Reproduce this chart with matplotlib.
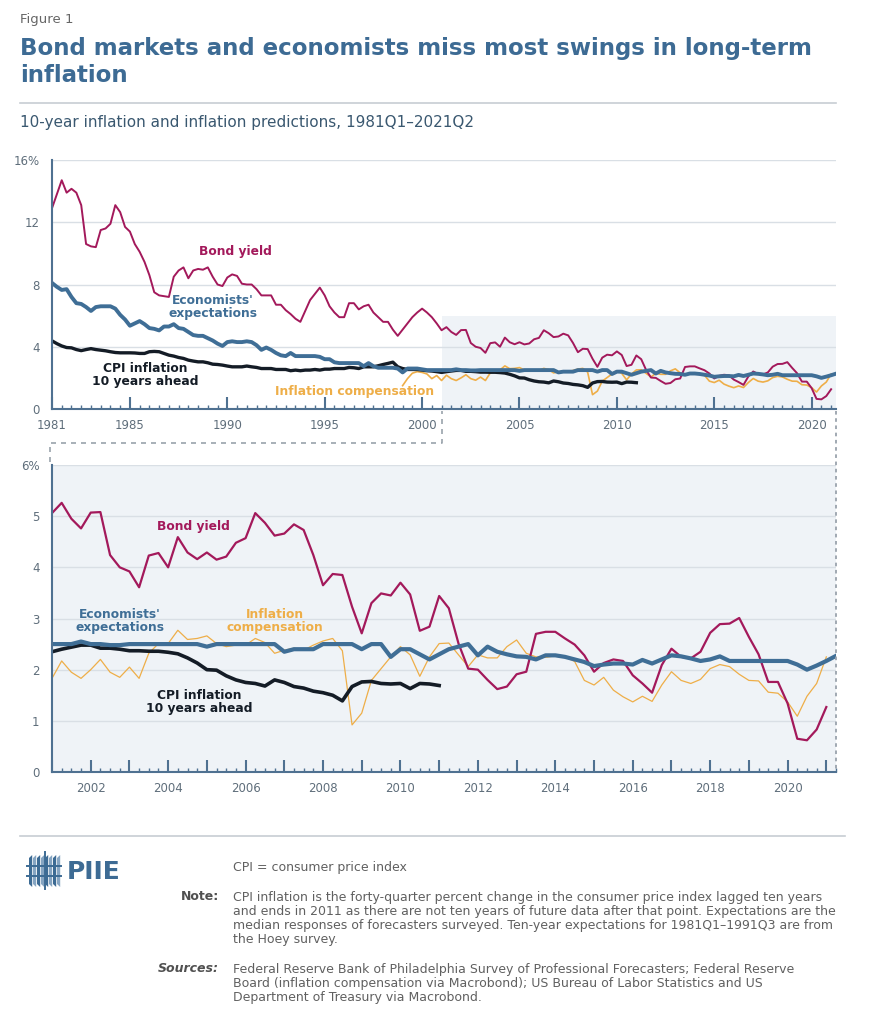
import numpy as np
import matplotlib.pyplot as plt
from matplotlib.patches import Rectangle, Polygon
from matplotlib.lines import Line2D

W, H = 874, 1024

# Quarterly data, percent
bond_start = 1981
bond_yield = [
    12.9, 13.8, 14.7, 13.9,   14.15, 13.9, 13.1, 10.6,   10.45, 10.4, 11.5, 11.6,
    11.9, 13.1, 12.65, 11.7,  11.4, 10.6, 10.1, 9.45,    8.6, 7.5, 7.3, 7.25,
    7.2, 8.5, 8.9, 9.1,       8.4, 8.9, 9.0, 8.95,       9.1, 8.5, 8.0, 7.9,
    8.45, 8.65, 8.55, 8.05,   8.0, 8.0, 7.7, 7.3,        7.3, 7.3, 6.7, 6.7,
    6.35, 6.1, 5.8, 5.6,      6.3, 7.0, 7.4, 7.8,        7.3, 6.6, 6.2, 5.9,
    5.9, 6.8, 6.8, 6.4,       6.6, 6.7, 6.2, 5.9,        5.6, 5.6, 5.1, 4.7,
    5.1, 5.5, 5.9, 6.2,       6.45, 6.2, 5.9, 5.5,       5.06, 5.26, 4.95, 4.76,
    5.07, 5.08, 4.24, 4.0,    3.92, 3.61, 4.23, 4.28,    4.0, 4.59, 4.29, 4.16,
    4.29, 4.15, 4.21, 4.48,   4.57, 5.06, 4.87, 4.62,    4.66, 4.84, 4.73, 4.24,
    3.65, 3.87, 3.85, 3.23,   2.71, 3.30, 3.49, 3.45,    3.70, 3.47, 2.76, 2.84,
    3.44, 3.2, 2.51, 2.02,    2.0, 1.8, 1.62, 1.67,      1.91, 1.96, 2.7, 2.74,
    2.74, 2.61, 2.49, 2.28,   1.96, 2.13, 2.2, 2.17,     1.89, 1.73, 1.55, 2.09,
    2.41, 2.25, 2.22, 2.35,   2.72, 2.89, 2.90, 3.01,    2.64, 2.30, 1.76, 1.76,
    1.34, 0.65, 0.62, 0.83,   1.27,
]

exp_start = 1981
expectations = [
    8.1, 7.85, 7.65, 7.7,     7.2, 6.8, 6.75, 6.55,      6.3, 6.55, 6.6, 6.6,
    6.6, 6.45, 6.05, 5.75,    5.35, 5.5, 5.65, 5.45,     5.2, 5.15, 5.05, 5.3,
    5.3, 5.45, 5.2, 5.15,     4.95, 4.75, 4.7, 4.7,      4.55, 4.4, 4.2, 4.05,
    4.3, 4.35, 4.3, 4.3,      4.35, 4.3, 4.1, 3.8,       3.95, 3.8, 3.6, 3.45,
    3.4, 3.6, 3.4, 3.4,       3.4, 3.4, 3.4, 3.35,       3.2, 3.2, 3.0, 2.95,
    2.95, 2.95, 2.95, 2.95,   2.75, 2.95, 2.75, 2.65,    2.65, 2.65, 2.65, 2.6,
    2.35, 2.6, 2.6, 2.6,      2.55, 2.5, 2.5, 2.5,       2.5, 2.5, 2.5, 2.55,
    2.5, 2.5, 2.48, 2.48,     2.5, 2.5, 2.5, 2.5,        2.5, 2.5, 2.5, 2.5,
    2.45, 2.5, 2.5, 2.5,      2.5, 2.5, 2.5, 2.5,        2.35, 2.4, 2.4, 2.4,
    2.5, 2.5, 2.5, 2.5,       2.4, 2.5, 2.5, 2.25,       2.4, 2.4, 2.3, 2.2,
    2.3, 2.4, 2.45, 2.5,      2.28, 2.45, 2.35, 2.3,     2.26, 2.25, 2.2, 2.28,
    2.28, 2.25, 2.2, 2.15,    2.07, 2.1, 2.12, 2.12,     2.1, 2.19, 2.12, 2.2,
    2.28, 2.26, 2.22, 2.17,   2.2, 2.26, 2.17, 2.17,     2.17, 2.17, 2.17, 2.17,
    2.17, 2.1, 2.0, 2.08,     2.17, 2.27,
]

cpi_start = 1981
cpi_ahead = [
    4.38, 4.2, 4.05, 3.95,    3.93, 3.82, 3.75, 3.82,    3.88, 3.82, 3.78, 3.74,
    3.68, 3.63, 3.61, 3.61,   3.61, 3.6, 3.57, 3.57,     3.68, 3.7, 3.68, 3.57,
    3.46, 3.4, 3.31, 3.25,    3.14, 3.08, 3.03, 3.03,    2.97, 2.88, 2.86, 2.82,
    2.76, 2.71, 2.71, 2.71,   2.76, 2.71, 2.67, 2.6,     2.6, 2.6, 2.54, 2.54,
    2.54, 2.46, 2.5, 2.46,    2.5, 2.5, 2.54, 2.5,       2.56, 2.56, 2.6, 2.6,
    2.6, 2.67, 2.65, 2.6,     2.71, 2.71, 2.71, 2.78,    2.86, 2.93, 3.01, 2.71,
    2.6, 2.54, 2.54, 2.54,    2.5, 2.46, 2.44, 2.4,      2.35, 2.40, 2.44, 2.48,
    2.48, 2.42, 2.42, 2.40,   2.37, 2.37, 2.36, 2.36,    2.34, 2.31, 2.23, 2.13,
    2.0, 1.99, 1.88, 1.8,     1.75, 1.73, 1.68, 1.8,     1.75, 1.67, 1.64, 1.58,
    1.55, 1.50, 1.39, 1.67,   1.76, 1.77, 1.73, 1.72,    1.73, 1.63, 1.73, 1.72,
    1.69,
]

comp_start = 1999
infl_comp = [
    1.5, 1.95, 2.3, 2.4,      2.35, 2.25, 1.95, 2.15,    1.83, 2.17, 1.95, 1.83,
    2.0, 2.2, 1.95, 1.85,     2.05, 1.83, 2.32, 2.51,    2.51, 2.77, 2.59, 2.61,
    2.66, 2.51, 2.45, 2.48,   2.48, 2.61, 2.53, 2.32,    2.38, 2.42, 2.38, 2.48,
    2.56, 2.61, 2.37, 0.92,   1.15, 1.79, 2.02, 2.25,    2.45, 2.29, 1.87, 2.25,
    2.51, 2.52, 2.29, 2.06,   2.29, 2.23, 2.23, 2.45,    2.58, 2.32, 2.25, 2.24,
    2.27, 2.25, 2.16, 1.79,   1.70, 1.85, 1.6, 1.47,     1.37, 1.48, 1.38, 1.70,
    1.96, 1.79, 1.73, 1.81,   2.02, 2.1, 2.06, 1.91,     1.79, 1.78, 1.56, 1.54,
    1.37, 1.09, 1.48, 1.73,   2.25,
]

upper_xticks = [1981, 1985, 1990, 1995, 2000, 2005, 2010, 2015, 2020]
upper_yticks = [0, 4, 8, 12, 16]
upper_ylabels = ['0', '4', '8', '12', '16%']
lower_xticks = list(range(2002, 2021, 2))
lower_yticks = [0, 1, 2, 3, 4, 5, 6]
lower_ylabels = ['0', '1', '2', '3', '4', '5', '6%']

note_lines = [
    'CPI inflation is the forty-quarter percent change in the consumer price index lagged ten years',
    'and ends in 2011 as there are not ten years of future data after that point. Expectations are the',
    'median responses of forecasters surveyed. Ten-year expectations for 1981Q1\u20131991Q3 are from',
    'the Hoey survey.',
]
source_lines = [
    'Federal Reserve Bank of Philadelphia Survey of Professional Forecasters; Federal Reserve',
    'Board (inflation compensation via Macrobond); US Bureau of Labor Statistics and US',
    'Department of Treasury via Macrobond.',
]

# Colours
C_BOND = '#a3195b'
C_EXP = '#3f6e96'
C_CPI = '#141c26'
C_COMP = '#eeae48'
C_AXIS = '#4f7191'
C_GRID = '#d9dfe5'
C_TICK = '#5f6e7b'
C_SHADE = '#eff3f7'
C_TITLE = '#3d6b94'
C_CONN = '#9aa3ac'

SANS = ['DejaVu Sans']


def fx(x):
    return x / W


def fy(y):
    return 1 - y / H


def quarters(start, values):
    return start + np.arange(len(values)) / 4


def style_axis(ax, yticks, ylabels):
    ax.set_yticks(yticks)
    ax.set_yticklabels(ylabels)
    ax.tick_params(axis='y', length=0, pad=9, labelsize=8.5, labelcolor=C_TICK)
    for side in ['top', 'right']:
        ax.spines[side].set_visible(False)
    for side in ['left', 'bottom']:
        ax.spines[side].set_color(C_AXIS)
        ax.spines[side].set_linewidth(1.5)
        ax.spines[side].set_zorder(6)
    ax.tick_params(axis='x', which='major', direction='in', length=8.5, width=1.5,
                   color=C_AXIS, labelsize=8.5, labelcolor=C_TICK, pad=7)
    ax.tick_params(axis='x', which='minor', direction='in', length=3, width=1,
                   color=C_AXIS)
    for lab in ax.get_xticklabels() + ax.get_yticklabels():
        lab.set_family(SANS)


fig = plt.figure(figsize=(W / 100, H / 100), dpi=100)

# ---- Header
fig.text(fx(20), fy(19), 'Figure 1', family=SANS, fontsize=9.5, color='#666666',
         va='center')
fig.text(fx(20), fy(48), 'Bond markets and economists miss most swings in long-term',
         family=SANS, fontsize=16.5, fontweight='bold', color=C_TITLE, va='center')
fig.text(fx(20), fy(76), 'inflation', family=SANS, fontsize=16.5, fontweight='bold',
         color=C_TITLE, va='center')
fig.add_artist(Line2D([fx(20), fx(836)], [fy(103), fy(103)], color='#c7cdd3', lw=1.2))
fig.text(fx(20), fy(123), '10-year inflation and inflation predictions, 1981Q1\u20132021Q2',
         family=SANS, fontsize=11, color='#3a5870', va='center')

# ---- Upper panel: full sample
ax1 = fig.add_axes([fx(52), fy(409), (836 - 52) / W, (409 - 160) / H])
ax1.set_xlim(1981, 2021.25)
ax1.set_ylim(0, 16)
ax1.add_patch(Rectangle((2001, 0), 20.25, 6, facecolor=C_SHADE, edgecolor='none', zorder=0))
for v in upper_yticks[1:]:
    ax1.axhline(v, color=C_GRID, lw=1, zorder=1)

ax1.plot(quarters(comp_start, infl_comp), infl_comp, color=C_COMP, lw=1.2, zorder=2)
ax1.plot(quarters(bond_start, bond_yield), bond_yield, color=C_BOND, lw=1.4, zorder=3)
ax1.plot(quarters(cpi_start, cpi_ahead), cpi_ahead, color=C_CPI, lw=2.4, zorder=4)
ax1.plot(quarters(exp_start, expectations), expectations, color=C_EXP, lw=2.8, zorder=5)

ax1.set_xticks(upper_xticks)
ax1.set_xticklabels([str(y) for y in upper_xticks])
ax1.set_xticks(np.arange(1981.5, 2021.3, 0.5), minor=True)
style_axis(ax1, upper_yticks, upper_ylabels)

lab_kw = dict(family=SANS, fontsize=8.8, fontweight='bold', ha='center', va='center',
              linespacing=1.0)
ax1.text(1990.4, 10.1, 'Bond yield', color=C_BOND, **lab_kw)
ax1.text(1989.25, 6.55, "Economists'\nexpectations", color=C_EXP, **lab_kw)
ax1.text(1985.8, 2.2, 'CPI inflation\n10 years ahead', color=C_CPI, **lab_kw)
ax1.text(1996.55, 1.15, 'Inflation compensation', color=C_COMP, **lab_kw)

# ---- Lower panel: zoom on 2001-2021
ax2 = fig.add_axes([fx(52), fy(772), (836 - 52) / W, (772 - 465) / H])
ax2.set_xlim(2001, 2021.25)
ax2.set_ylim(0, 6)
ax2.set_facecolor(C_SHADE)
for v in lower_yticks[1:]:
    ax2.axhline(v, color=C_GRID, lw=1, zorder=1)

ax2.plot(quarters(comp_start, infl_comp), infl_comp, color=C_COMP, lw=0.9, zorder=2)
ax2.plot(quarters(bond_start, bond_yield), bond_yield, color=C_BOND, lw=1.6, zorder=3)
ax2.plot(quarters(cpi_start, cpi_ahead), cpi_ahead, color=C_CPI, lw=2.6, zorder=4)
ax2.plot(quarters(exp_start, expectations), expectations, color=C_EXP, lw=3.0, zorder=5)

ax2.set_xticks(range(2001, 2022))
ax2.set_xticklabels([str(y) if y in lower_xticks else '' for y in range(2001, 2022)])
ax2.set_xticks(np.arange(2001.25, 2021.3, 0.25), minor=True)
style_axis(ax2, lower_yticks, lower_ylabels)

ax2.text(2004.65, 4.79, 'Bond yield', color=C_BOND, **lab_kw)
ax2.text(2002.75, 2.95, "Economists'\nexpectations", color=C_EXP, **lab_kw)
ax2.text(2006.75, 2.95, 'Inflation\ncompensation', color=C_COMP, **lab_kw)
ax2.text(2004.8, 1.37, 'CPI inflation\n10 years ahead', color=C_CPI, **lab_kw)

# ---- Connectors between the panels
inv = fig.transFigure.inverted()
a = inv.transform(ax1.transData.transform((2001, 0)))
b = inv.transform(ax2.transData.transform((2001, 6)))
mid = fy(443)
fig.add_artist(Line2D([b[0] - 0.002, b[0] - 0.002, a[0], a[0]],
                      [b[1] + 0.003, mid, mid, a[1] - 0.002],
                      color=C_CONN, lw=1.2, linestyle=(0, (3, 3))))
c = inv.transform(ax1.transData.transform((2021.25, 0)))
d = inv.transform(ax2.transData.transform((2021.25, 0)))
fig.add_artist(Line2D([c[0], d[0]], [c[1] - 0.002, d[1]], color=C_CONN, lw=1.3,
                      linestyle=(0, (2, 2)), zorder=10))

# ---- Footer
fig.add_artist(Line2D([fx(20), fx(845)], [fy(836), fy(836)], color='#c7cdd3', lw=1.2))

# logo: striped block plus wordmark
for i, xs in enumerate(np.arange(29, 59, 4)):
    shade = '#3d6b94' if i % 2 == 0 else '#86a5c2'
    fig.add_artist(Polygon([(fx(xs), fy(884)), (fx(xs + 3.2), fy(887)),
                            (fx(xs + 3.2), fy(855)), (fx(xs), fy(858))],
                           closed=True, facecolor=shade, edgecolor='none'))
for yy in (866, 876):
    fig.add_artist(Line2D([fx(27), fx(61)], [fy(yy), fy(yy)], color='#3d6b94', lw=1.4))
fig.add_artist(Line2D([fx(45), fx(45)], [fy(852), fy(889)], color='#3d6b94', lw=1.4))
fig.text(fx(67), fy(872), 'PIIE', family=SANS, fontsize=18, fontweight='bold',
         color=C_TITLE, va='center')

foot_kw = dict(family=SANS, fontsize=9.0, color='#606060', va='center')
fig.text(fx(233), fy(867), 'CPI = consumer price index', **foot_kw)
fig.text(fx(219), fy(897), 'Note:', family=SANS, fontsize=9.0, fontweight='bold',
         color='#505050', va='center', ha='right')
for i, line in enumerate(note_lines):
    fig.text(fx(233), fy(897 + i * 14.3), line, **foot_kw)
fig.text(fx(219), fy(969), 'Sources:', family=SANS, fontsize=9.0, fontweight='bold',
         style='italic', color='#505050', va='center', ha='right')
for i, line in enumerate(source_lines):
    fig.text(fx(233), fy(969 + i * 14.3), line, **foot_kw)

fig.savefig('out.png', dpi=100)
